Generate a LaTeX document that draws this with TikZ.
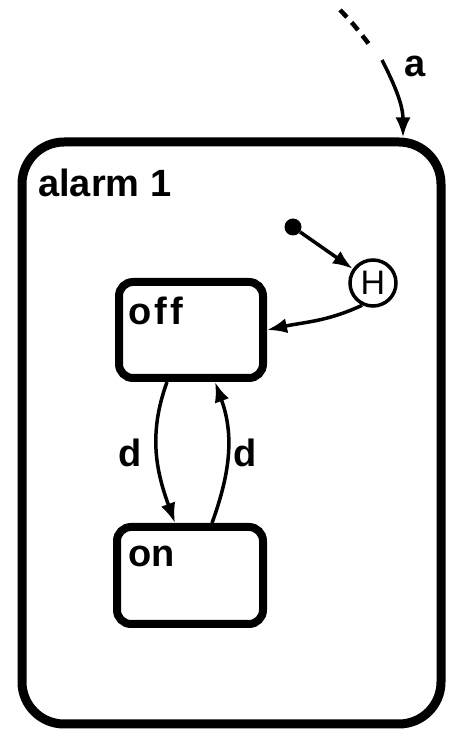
\documentclass[tikz,border=0pt]{standalone}
\usepackage{fontspec}
\setmainfont[Ligatures={NoCommon}]{Liberation Sans}
\usetikzlibrary{arrows.meta}
\begin{document}
\begin{tikzpicture}[x=1pt,y=1pt,
  statebox/.style={draw, line width=8pt, rounded corners=14pt, inner sep=0pt},
  lbl/.style={anchor=base west, inner sep=0pt, font=\fontsize{38}{38}\selectfont\bfseries},
  trans/.style={line width=3.5pt, -{Latex[length=20pt,width=15pt]}},
]
\useasboundingbox (0,0) rectangle (450,732);

% superstate
\node[draw, line width=9pt, rounded corners=42pt, inner sep=0pt,
      minimum width=419pt, minimum height=582pt] (alarm) at (231.5,299) {};
\node[lbl] (alarmname) at (38,535) {alarm 1};

% substates
\node[statebox, minimum width=144pt, minimum height=96pt] (off) at (191,402) {};
\node[lbl, font=\fontsize{38}{38}\selectfont\bfseries\addfontfeatures{LetterSpace=8}] (offname) at (128,407) {off};
\node[statebox, minimum width=146pt, minimum height=97pt] (on) at (190,156.5) {};
\node[lbl] (onname) at (128,165) {on};

% history connector and default entry
\node[circle, draw, line width=3.5pt, minimum size=46pt, inner sep=0pt,
      font=\fontsize{34}{34}\selectfont] (H) at (373,449) {H};
\node[circle, fill, minimum size=17pt, inner sep=0pt] (dot) at (293,505) {};

\draw[trans] (dot) -- (H);
\draw[trans] (H.-116) to[out=205, in=12] (off.east);

% toggling transitions
\draw[trans] ([xshift=-24pt]off.south) to[out=-110, in=110] ([xshift=-15pt]on.north);
\draw[trans] ([xshift=22pt]on.north) to[out=70, in=-70] ([xshift=24pt]off.south);
\node[lbl] (dleft) at (118,265) {d};
\node[lbl] (dright) at (233,265) {d};

% incoming event a
\coordinate (astart) at (340,722);
\coordinate (amid) at (382,672);
\draw[line width=4.5pt, dash pattern=on 10pt off 7pt] (astart) to[out=-45, in=128] ([shift={(-10pt,12pt)}]amid);
\draw[trans] (amid) to[out=-63, in=90] ([xshift=171.5pt]alarm.north);
\node[lbl] (aname) at (404,655) {a};
\end{tikzpicture}
\end{document}
